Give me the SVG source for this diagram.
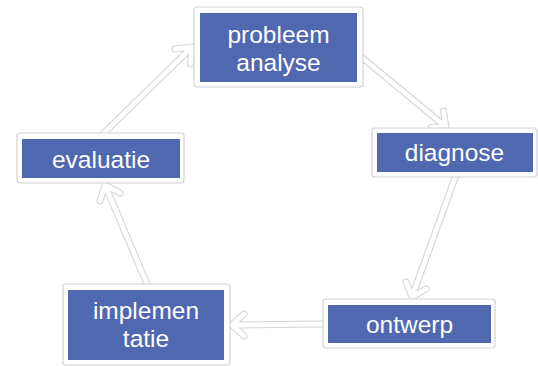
<svg xmlns="http://www.w3.org/2000/svg" width="538" height="366" viewBox="0 0 538 366">
<style>
.frame{fill:#ffffff;stroke:#d2d2d2;stroke-width:1.2}
.box{fill:#5068b0}
.lbl{fill:#ffffff;font-family:"Liberation Sans",Arial,sans-serif;font-size:24.5px;text-anchor:middle}
.out{fill:none;stroke:#d6d6d6;stroke-width:7;stroke-linecap:round;stroke-linejoin:round}
.in{fill:none;stroke:#ffffff;stroke-width:4.8;stroke-linecap:round;stroke-linejoin:round}
</style>
<defs>
<path id="c1" d="M359,55 L446,127 M431,127.5 L446,127 L443.5,111"/>
<path id="c2" d="M455,178 L412,297 M426,289 L412,297 L406,282"/>
<path id="c3" d="M323,324 L232,325 M244,336 L232,325 L244,314"/>
<path id="c4" d="M147,284 L105,185 M100,201 L105,185 L120,193"/>
<path id="c5" d="M103,134 L192,47 M175,49 L192,47 L190.5,64"/>
</defs>
<g id="connectors">
<use href="#c1" class="out"/><use href="#c1" class="in"/>
<use href="#c2" class="out"/><use href="#c2" class="in"/>
<use href="#c3" class="out"/><use href="#c3" class="in"/>
<use href="#c4" class="out"/><use href="#c4" class="in"/>
<use href="#c5" class="out"/><use href="#c5" class="in"/>
</g>
<g id="probleem">
<rect class="frame" x="194" y="7" width="169" height="80" rx="3"/>
<rect class="box" x="200" y="13" width="157" height="69"/>
<text class="lbl" x="278.5" y="43">probleem</text>
<text class="lbl" x="278.5" y="71">analyse</text>
</g>
<g id="diagnose">
<rect class="frame" x="372" y="128" width="165" height="49" rx="3"/>
<rect class="box" x="377" y="133" width="156" height="39"/>
<text class="lbl" x="454.5" y="161">diagnose</text>
</g>
<g id="ontwerp">
<rect class="frame" x="323" y="299" width="172" height="49" rx="3"/>
<rect class="box" x="328" y="305" width="163" height="38"/>
<text class="lbl" x="409.5" y="333">ontwerp</text>
</g>
<g id="implementatie">
<rect class="frame" x="63" y="284" width="167" height="81" rx="3"/>
<rect class="box" x="68" y="290" width="156" height="70"/>
<text class="lbl" x="146" y="319">implemen</text>
<text class="lbl" x="146" y="347">tatie</text>
</g>
<g id="evaluatie">
<rect class="frame" x="17" y="133" width="167" height="50" rx="3"/>
<rect class="box" x="22" y="139" width="158" height="39"/>
<text class="lbl" x="101" y="168">evaluatie</text>
</g>
</svg>
